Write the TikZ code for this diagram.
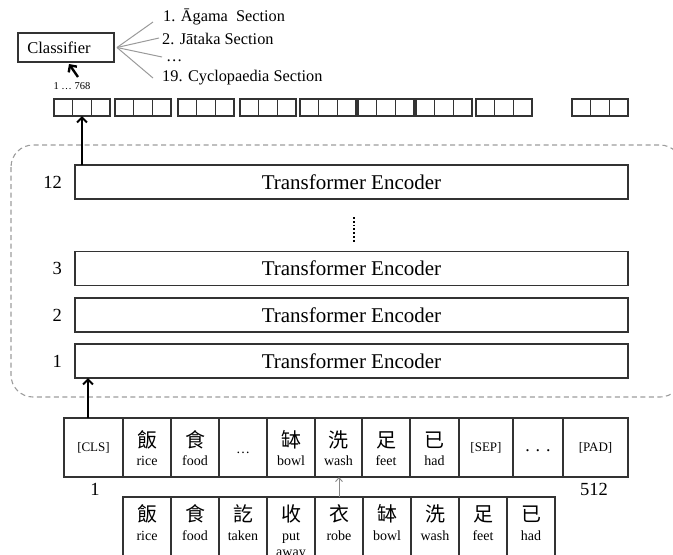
\documentclass[tikz,border=0pt]{standalone}
\usepackage{fontspec}
\setmainfont{Liberation Serif}
\newfontfamily\cjk{Noto Sans CJK TC}
\usetikzlibrary{arrows.meta}

\definecolor{linegray}{HTML}{333333}
\definecolor{fangray}{HTML}{9A9A9A}
\definecolor{framegray}{HTML}{9C9C9C}
\definecolor{thingray}{HTML}{888888}

\begin{document}
\begin{tikzpicture}[x=1pt,y=-1pt,
  box/.style={draw=linegray, line width=1.3pt, inner sep=0pt, outer sep=0pt},
  enc/.style={box, minimum width=553pt, minimum height=34pt,
    font=\fontsize{21}{24}\selectfont},
  vcell/.style={box, minimum width=18.67pt, minimum height=17pt},
  cell/.style={box, minimum height=59pt},
  num/.style={inner sep=0pt, font=\fontsize{18.5}{20}\selectfont},
  sec/.style={inner sep=0pt, anchor=west, font=\fontsize{16.3}{18}\selectfont},
  cjkt/.style={inner sep=0pt, font=\cjk\fontsize{20}{22}\selectfont},
  en/.style={inner sep=0pt, font=\fontsize{14}{16}\selectfont},
  tag/.style={inner sep=0pt, font=\fontsize{13}{15}\selectfont},
  arr/.style={line width=2pt, -{Straight Barb[length=5pt,width=10pt]}},
  garr/.style={draw=thingray, line width=0.9pt, -{Straight Barb[length=4pt,width=7pt]}},
  fan/.style={draw=fangray, line width=1pt},
  frame/.style={draw=framegray, line width=1.1pt, dash pattern=on 5pt off 3.5pt,
    rounded corners=22pt}
]
\useasboundingbox (0,0) rectangle (673,555);
\clip (0,0) rectangle (673,555);

% encoder stack frame
\draw[frame] (11,145) rectangle (682,397);

% transformer encoder layers
\node[enc] (e12) at (351.5,182) {Transformer Encoder};
\node[enc] (e3)  at (351.5,268.5) {Transformer Encoder};
\node[enc] (e2)  at (351.5,315) {Transformer Encoder};
\node[enc] (e1)  at (351.5,361) {Transformer Encoder};
\node[num, anchor=east] (n12) at ([xshift=-13pt]e12.west) {12};
\node[num, anchor=east] (n3)  at ([xshift=-13pt]e3.west) {3};
\node[num, anchor=east] (n2)  at ([xshift=-13pt]e2.west) {2};
\node[num, anchor=east] (n1)  at ([xshift=-13pt]e1.west) {1};
\draw[line width=2.2pt, dash pattern=on 1.8pt off 2pt]
  ([xshift=2.5pt,yshift=-18pt]e12.south) -- ([xshift=2.5pt,yshift=9pt]e3.north);

% output vectors (groups of three cells)
\foreach \g/\x in {1/54,2/115,3/178,4/240,5/300,6/358,7/416,8/476,9/572} {
  \foreach \c in {0,1,2} {
    \node[vcell] (v\g-\c) at ({\x+9.33+18.67*\c},107.5) {};
  }
}
\draw[arr] (v1-1.south |- e12.north) -- (v1-1.south);

% classifier and its output classes
\node[box, minimum width=96pt, minimum height=29pt,
  font=\fontsize{16.5}{18}\selectfont] (cls) at (66,47.5) {\hspace*{-14pt}Classifier};
\node[inner sep=0pt, font=\fontsize{10.5}{12}\selectfont] (dimlbl) at (72,86) {1 … 768};
\coordinate (clsin) at (78,77);
\draw[arr, line width=2.4pt] (clsin) -- ([shift={(3pt,-2pt)}]cls.south);

\node[sec] (s1) at (163,17) {1. Āgama\ \ Section};
\node[sec] (s2) at (162,39) {2. Jātaka Section};
\node[sec] (s3) at (166,61) {…};
\node[sec] (s4) at (162,78) {19. Cyclopaedia Section};
\coordinate (f1) at (153,22);
\coordinate (f2) at (159,38);
\coordinate (f3) at (162,57);
\coordinate (f4) at (153,78);
\foreach \f in {f1,f2,f3,f4} \draw[fan] ([xshift=3pt]cls.east) -- (\f);

% input token row
\foreach \i/\a/\b in {1/64/123,2/123/171,3/171/219,4/219/267,5/267/315,6/315/362,
                      7/362/410,8/410/459,9/459/513,10/513/563,11/563/628} {
  \node[cell, minimum width={(\b-\a)*1pt}] (in\i) at ({(\a+\b)/2},447.5) {};
}
\foreach \i/\ch/\en in {2/飯/rice,3/食/food,5/缽/bowl,6/洗/wash,7/足/feet,8/已/had} {
  \node[cjkt] (inc\i) at ([yshift=7.5pt]in\i.center) {\ch};
  \node[en, anchor=base] (ine\i) at ([yshift=-18pt]in\i.center) {\en};
}
\node[tag] (tcls) at (in1.center) {[CLS]};
\node[en] (tdot1) at ([yshift=-5pt]in4.center) {…};
\node[tag] (tsep) at (in9.center) {[SEP]};
\node[font=\fontsize{18}{20}\selectfont, inner sep=0pt] (tdot2) at ([yshift=-3pt]in10.center) {.\,\,.\,\,.};
\node[tag] (tpad) at (in11.center) {[PAD]};
\node[num] (pos1) at (95,489) {1};
\node[num] (pos512) at (594,489) {512};

\draw[arr] ([xshift=-5.5pt]in1.north) -- ([xshift=-5.5pt]in1.north |- e1.south);

% original text row
\foreach \i/\ch/\en in {1/飯/rice,2/食/food,3/訖/taken,4/收/put,5/衣/robe,
                        6/缽/bowl,7/洗/wash,8/足/feet,9/已/had} {
  \node[box, minimum width=48pt, minimum height=78pt] (b\i) at ({123+48*\i-24},536) {};
  \node[cjkt] (bc\i) at ([yshift=22pt]b\i.center) {\ch};
  \node[en, anchor=base] (be\i) at ([yshift=-4pt]b\i.center) {\en};
}
\node[en, anchor=base] (be4b) at ([yshift=-16pt]be4.base) {away};

\draw[garr] (b5.north) -- (b5.north |- in6.south);
\end{tikzpicture}
\end{document}
